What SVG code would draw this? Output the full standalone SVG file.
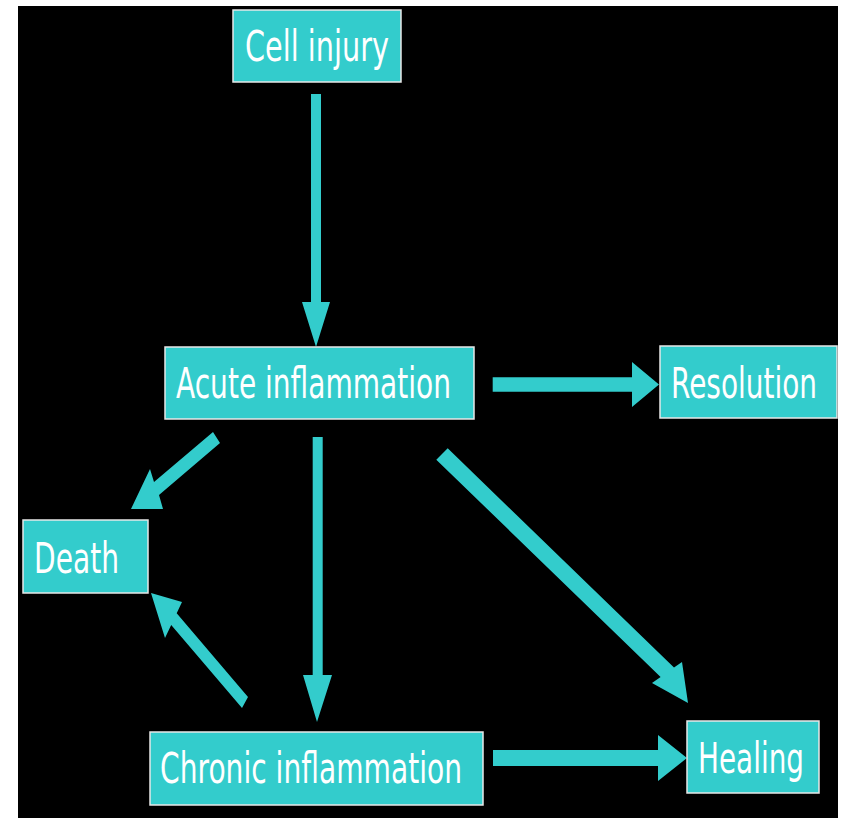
<svg xmlns="http://www.w3.org/2000/svg" width="841" height="818" viewBox="0 0 841 818">
<style>
.box{fill:#33CCCC;stroke:#E8E8E8;stroke-width:1.5}
.lbl{fill:#FFFFFF;font-family:"DejaVu Sans","Liberation Sans",sans-serif;font-size:42px}
.arr{fill:#33CCCC}
</style>
<rect x="0" y="0" width="841" height="818" fill="#FFFFFF"/>
<rect x="18" y="6" width="820" height="812" fill="#000000"/>
<g id="connectors">
<polygon class="arr" points="311,94 321,94 321,302 330,302 316,347 302,302 311,302"/>
<polygon class="arr" points="492.7,377.3 632,377.3 632,362 659,384.5 632,407 632,391.7 492.7,391.7"/>
<polygon class="arr" points="312.7,437 322.7,437 322.7,675 332,675 317,722 303,675 312.7,675"/>
<polygon class="arr" points="493,750 658,750 658,735 687,758 658,781 658,766 493,766"/>
<polygon class="arr" points="213,432 220,443 159,495 163,509 131,509 150,469 154,482"/>
<polygon class="arr" points="248,697 176.7,613.3 182,602 151,593 165,638 171.2,624.9 242,708"/>
<polygon class="arr" points="447.7,448.3 674,667.6 682,662 688,703 652,683 660.6,677 436.3,459.7"/>
</g>
<g id="cell-injury">
<rect class="box" x="233" y="10" width="168" height="72"/>
<text class="lbl" x="245" y="61" textLength="144" lengthAdjust="spacingAndGlyphs">Cell injury</text>
</g>
<g id="acute-inflammation">
<rect class="box" x="165" y="347" width="309" height="72"/>
<text class="lbl" x="176" y="398" textLength="275" lengthAdjust="spacingAndGlyphs">Acute inflammation</text>
</g>
<g id="resolution">
<rect class="box" x="660" y="346" width="177" height="72"/>
<text class="lbl" x="671" y="398" textLength="146" lengthAdjust="spacingAndGlyphs">Resolution</text>
</g>
<g id="death">
<rect class="box" x="23" y="520" width="125" height="73"/>
<text class="lbl" x="34" y="573" textLength="85" lengthAdjust="spacingAndGlyphs">Death</text>
</g>
<g id="chronic-inflammation">
<rect class="box" x="150" y="732" width="333" height="73"/>
<text class="lbl" x="160" y="783" textLength="302" lengthAdjust="spacingAndGlyphs">Chronic inflammation</text>
</g>
<g id="healing">
<rect class="box" x="687" y="721" width="132" height="72"/>
<text class="lbl" x="698" y="773" textLength="106" lengthAdjust="spacingAndGlyphs">Healing</text>
</g>
</svg>
